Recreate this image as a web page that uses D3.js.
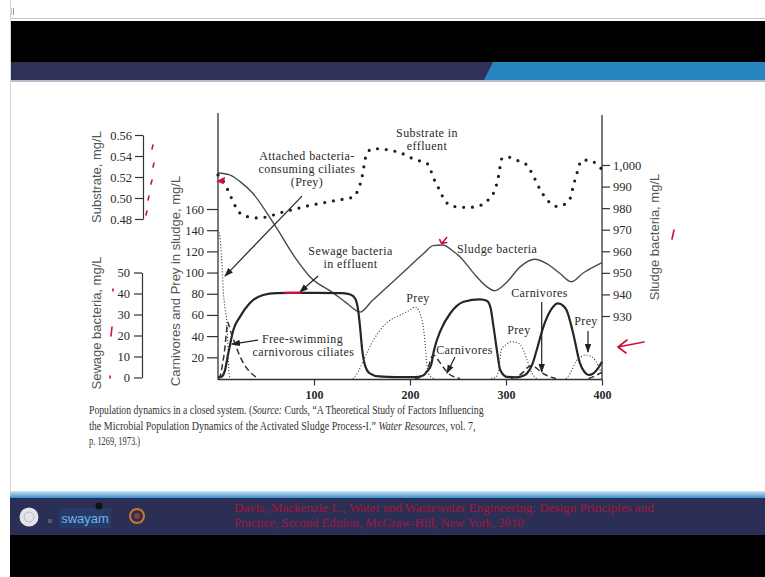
<!DOCTYPE html>
<html>
<head>
<meta charset="utf-8">
<script src="https://cdn.jsdelivr.net/npm/d3@7"></script>
<style>
  body { margin: 0; background: #fff; }
  svg { display: block; }
</style>
</head>
<body>
<div id="chart"></div>
<script>
// Time axis (hours) and tick values
const timeTicks = [100, 200, 300, 400];
const cpTicks = [20, 40, 60, 80, 100, 120, 140, 160];
const substrateTicks = [0.48, 0.50, 0.52, 0.54, 0.56];
const sewageTicks = [0, 10, 20, 30, 40, 50];
const sludgeTicks = [930, 940, 950, 960, 970, 980, 990, 1000];

// Substrate in effluent, mg/L  [time, value]
const substrate = [
  [0, 0.522], [4, 0.518], [8, 0.512], [12, 0.504], [16, 0.496], [20, 0.489], [25, 0.484],
  [32, 0.482], [40, 0.481], [51, 0.482], [65, 0.486], [78, 0.489], [96, 0.493], [113, 0.496],
  [131, 0.499], [141, 0.501], [146, 0.508], [150, 0.520], [152, 0.530], [155, 0.543],
  [162, 0.547], [176, 0.546], [190, 0.543], [204, 0.537], [219, 0.532], [224, 0.520],
  [230, 0.509], [236, 0.498], [245, 0.492], [261, 0.491], [269, 0.492], [278, 0.495],
  [283, 0.500], [289, 0.509], [292, 0.520], [296, 0.538], [302, 0.539], [311, 0.536],
  [321, 0.532], [328, 0.522], [335, 0.509], [343, 0.498], [353, 0.492], [361, 0.494],
  [367, 0.500], [370, 0.511], [374, 0.524], [379, 0.536], [386, 0.536], [396, 0.531], [400, 0.527]
];

// Sludge bacteria, mg/L (right axis)
const sludge = [
  [0, 996.3], [12, 995.4], [23, 992.3], [36, 987.0], [59, 972.2], [82, 956.0], [96, 948.1],
  [120, 940.7], [134, 936.0], [148, 931.8], [160, 936.8], [180, 945.0], [200, 953.2],
  [215, 959.3], [224, 962.6], [234, 962.9], [245, 960.0], [252, 957.5], [266, 950.0],
  [280, 943.6], [288, 941.7], [300, 945.3], [315, 952.9], [330, 956.3], [342, 954.4],
  [356, 949.8], [368, 945.9], [380, 949.8], [400, 954.7]
];

// Sewage bacteria in effluent, mg/L
const sewage = [
  [0, 0], [4, 0.5], [7, 3], [10.7, 11.4], [16, 22.6], [23, 29], [33, 35.4], [47, 39.3],
  [61, 40.2], [75, 40.3], [100, 40.3], [130, 40.2], [138, 39.5], [143, 37.5], [146, 32],
  [148, 24], [150, 14], [153, 6], [158, 2], [168, 0.5], [185, 0.2], [205, 0.2], [213, 0.8],
  [218, 3], [222, 6], [225, 13], [232, 22.6], [242, 30.6], [256, 36.1], [273, 37.2],
  [280, 36.5], [284, 33], [287, 24.2], [291, 11.5], [294, 3.6], [301, 0.3], [311, 0.1],
  [318, 0.8], [322, 2.0], [328, 7], [332, 13.1], [339, 24.2], [348, 33], [354, 35.3],
  [360, 34], [363, 32.1], [370, 21], [377, 6.8], [382, 2.5], [386, 1.2], [391, 2.0],
  [396, 4.5], [400, 7.5]
];

// Attached ciliates (prey), mg/L in sludge; null breaks the line
const prey = [
  [0, 140], [2, 133], [4, 110], [5.5, 83], [7.5, 65], [9, 55], [10, 38], [10.8, 18],
  [11.5, 4], [13, 0], [14, null],
  [141, 0], [146, 6.4], [153, 20], [161, 34.7], [175, 52], [190, 60], [200, 64.6],
  [205, 67.5], [208, 66], [211, 60], [214, 48], [216, 30], [217.5, 14], [220, 3.3], [225, 0],
  [226, null],
  [285, 0], [290, 1.7], [293, 12], [295, 26.9], [300, 32], [305, 34.7], [311, 34],
  [315, 31.6], [319, 25], [322, 17.5], [327, 5.2], [332, 0], [333, null],
  [363, 0], [367, 5.2], [374, 17.5], [379, 21], [383, 22.2], [387, 21.5], [391, 19.3],
  [396, 12], [398, 8], [400, 4]
];

// Free-swimming carnivorous ciliates, mg/L in sludge
const carnivores = [
  [0, 0], [2, 2], [5, 15], [7.3, 30], [9, 46], [10.2, 53], [11.5, 50], [14, 42],
  [17.7, 33], [21, 25], [24.7, 17.5], [29, 11], [33, 6.4], [38, 2.5], [42, 0], [43, null],
  [205, 0], [213, 2], [218, 8], [221, 16], [223, 21], [225, 22], [228, 19], [232, 14],
  [236, 9], [241, 4], [246, 1.5], [252, 0], [253, null],
  [305, 0], [312, 2], [318, 6], [322, 10], [326, 12], [330, 11], [334, 8], [340, 4],
  [346, 1.5], [352, 0], [353, null],
  [386, 0], [392, 2], [396, 4], [400, 6]
];

const caption = [
  [{ t: "Population dynamics in a closed system. (" }, { t: "Source:", i: true }, { t: " Curds, \u201CA Theoretical Study of Factors Influencing" }],
  [{ t: "the Microbial Population Dynamics of the Activated Sludge Process-I.\u201D " }, { t: "Water Resources,", i: true }, { t: " vol. 7," }],
  [{ t: "p. 1269, 1973.)" }]
];
const footer = [
  "Davis, Mackenzie L., Water and Wastewater Engineering: Design Principles and",
  "Practice, Second Edition, McGraw-Hill, New York, 2010"
];

const width = 765;
const height = 577;
const serif = "'Liberation Serif', 'Times New Roman', serif";
const sans = "'Liberation Sans', Arial, sans-serif";

const svg = d3.select("#chart").append("svg")
  .attr("width", width)
  .attr("height", height)
  .attr("viewBox", [0, 0, width, height]);

// ---- slide frame ----
svg.append("rect").attr("width", width).attr("height", height).attr("fill", "#fff");
svg.append("line").attr("x1", 10).attr("x2", width).attr("y1", 18.5).attr("y2", 18.5)
  .attr("stroke", "#c8c8c8");
svg.append("path").attr("d", "M11,8V15M13.5,8V15").attr("stroke", "#999").attr("stroke-width", 1);
svg.append("rect").attr("x", 10).attr("y", 21).attr("width", width - 10).attr("height", 41).attr("fill", "#000");
svg.append("rect").attr("x", 10).attr("y", 62).attr("width", width - 10).attr("height", 18).attr("fill", "#2f3159");
svg.append("path").attr("d", "M493,62H765V80H484Z").attr("fill", "#2786c2");
svg.append("line").attr("x1", 10).attr("x2", width).attr("y1", 81).attr("y2", 81)
  .attr("stroke", "#b8bcc8").attr("stroke-width", 2);
svg.append("line").attr("x1", 10.5).attr("x2", 10.5).attr("y1", 0).attr("y2", height)
  .attr("stroke", "#d8d8d8");

const grad = svg.append("defs").append("linearGradient").attr("id", "fb")
  .attr("x1", 0).attr("x2", 0).attr("y1", 0).attr("y2", 1);
grad.append("stop").attr("offset", 0).attr("stop-color", "#cfe6f6");
grad.append("stop").attr("offset", 1).attr("stop-color", "#3a8fcf");
svg.append("rect").attr("x", 10).attr("y", 491).attr("width", width - 10).attr("height", 7).attr("fill", "url(#fb)");
svg.append("rect").attr("x", 10).attr("y", 498).attr("width", width - 10).attr("height", 37).attr("fill", "#2c2f55");
svg.append("rect").attr("x", 10).attr("y", 535).attr("width", width - 10).attr("height", 42).attr("fill", "#000");

// footer logos
const logos = svg.append("g");
logos.append("circle").attr("cx", 29).attr("cy", 517).attr("r", 9.5).attr("fill", "#e4e4ea");
logos.append("circle").attr("cx", 29).attr("cy", 517).attr("r", 5).attr("fill", "none").attr("stroke", "#b9b9c4");
logos.append("rect").attr("x", 48).attr("y", 519).attr("width", 4).attr("height", 4).attr("fill", "#555a70");
logos.append("rect").attr("x", 59).attr("y", 508).attr("width", 52).attr("height", 20).attr("fill", "#253a66");
logos.append("text").attr("x", 85).attr("y", 523).attr("text-anchor", "middle")
  .attr("font-family", sans).attr("font-size", 13).attr("fill", "#6fb4ec").text("swayam");
logos.append("circle").attr("cx", 99).attr("cy", 506).attr("r", 3.5).attr("fill", "#111");
logos.append("circle").attr("cx", 137).attr("cy", 516).attr("r", 7).attr("fill", "none")
  .attr("stroke", "#c9782c").attr("stroke-width", 2);
logos.append("circle").attr("cx", 137).attr("cy", 516).attr("r", 3).attr("fill", "#8a3c3c");

const footerText = svg.append("g").attr("font-family", serif).attr("font-size", 13).attr("fill", "#a3173a");
const footerWidths = [420, 290];
footer.forEach((line, i) => {
  const t = footerText.append("text").attr("x", 0).attr("y", 0).text(line);
  const w = t.node().getComputedTextLength();
  t.attr("transform", `translate(234,${512 + i * 15}) scale(${footerWidths[i] / w},1)`);
});

// ---- scales ----
const x = d3.scaleLinear([0, 400], [218, 602]);
const yCP = d3.scaleLinear([0, 160], [378.5, 209]);
const ySub = d3.scaleLinear([0.48, 0.56], [219, 135]);
const ySew = d3.scaleLinear([0, 50], [377.5, 272.5]);
const ySl = d3.scaleLinear([930, 1000], [316, 165]);

const styleAxis = g => {
  g.attr("font-family", serif).attr("font-size", 12.5);
  g.selectAll(".tick line").attr("stroke", "#333").attr("stroke-width", 1.2);
  g.selectAll(".tick text").attr("fill", "#2a2a2a");
  g.select(".domain").attr("stroke", "#333").attr("stroke-width", 1.2);
};

// carnivores & prey axis (inner left)
svg.append("g")
  .attr("transform", "translate(218,0)")
  .call(d3.axisLeft(yCP).tickValues(cpTicks).tickSize(11).tickPadding(3))
  .call(g => g.select(".domain").remove())
  .call(styleAxis);

// substrate axis
svg.append("g")
  .attr("transform", "translate(143,0)")
  .call(d3.axisLeft(ySub).tickValues(substrateTicks).tickFormat(d3.format(".2f"))
    .tickSize(8).tickSizeOuter(0).tickPadding(3))
  .call(styleAxis);

// sewage bacteria axis
svg.append("g")
  .attr("transform", "translate(142,0)")
  .call(d3.axisLeft(ySew).tickValues(sewageTicks).tickSize(8).tickSizeOuter(0).tickPadding(4))
  .call(styleAxis);

// sludge bacteria axis (right)
svg.append("g")
  .attr("transform", "translate(602,0)")
  .call(d3.axisRight(ySl).tickValues(sludgeTicks).tickFormat(d3.format(",")).tickSize(8).tickPadding(3))
  .call(g => g.select(".domain").remove())
  .call(styleAxis);

// time axis
svg.append("g")
  .attr("transform", "translate(0,379.5)")
  .call(d3.axisBottom(x).tickValues(timeTicks).tickSize(6).tickPadding(5))
  .call(g => g.select(".domain").remove())
  .call(styleAxis)
  .call(g => g.attr("font-size", 12).attr("font-weight", "bold"));

// frame lines of the plot
svg.append("g").attr("stroke", "#333").attr("stroke-width", 1.3)
  .call(g => g.append("line").attr("x1", x(0)).attr("x2", x(0)).attr("y1", 113).attr("y2", 380))
  .call(g => g.append("line").attr("x1", x(400)).attr("x2", x(400)).attr("y1", 115).attr("y2", 380))
  .call(g => g.append("line").attr("x1", x(0)).attr("x2", x(400)).attr("y1", 379.5).attr("y2", 379.5));

// axis titles
const titles = svg.append("g").attr("font-family", sans).attr("font-size", 13).attr("fill", "#555")
  .attr("text-anchor", "middle");
[
  ["Substrate, mg/L", 101, 177],
  ["Sewage bacteria, mg/L", 101, 323],
  ["Carnivores and Prey in sludge, mg/L", 180, 281],
  ["Sludge bacteria, mg/L", 659, 237]
].forEach(([t, cx, cy]) => {
  titles.append("text").attr("transform", `translate(${cx},${cy}) rotate(-90)`).text(t);
});

// ---- series ----
const line = y => d3.line()
  .defined(d => d[1] !== null)
  .x(d => x(d[0]))
  .y(d => y(d[1]))
  .curve(d3.curveMonotoneX);

const plot = svg.append("g").attr("fill", "none");

plot.append("path").datum(sludge)
  .attr("d", line(ySl)).attr("stroke", "#4a4a4a").attr("stroke-width", 1.4);

plot.append("path").datum(sewage)
  .attr("d", line(ySew)).attr("stroke", "#262626").attr("stroke-width", 2.2);

plot.append("path").datum(prey)
  .attr("d", line(yCP)).attr("stroke", "#444").attr("stroke-width", 1.3)
  .attr("stroke-dasharray", "0 3").attr("stroke-linecap", "round");

plot.append("path").datum(carnivores)
  .attr("d", line(yCP)).attr("stroke", "#333").attr("stroke-width", 1.5)
  .attr("stroke-dasharray", "6 3.5");

plot.append("path").datum(substrate)
  .attr("d", line(ySub)).attr("stroke", "#1e1e1e").attr("stroke-width", 3.2)
  .attr("stroke-dasharray", "0 8.8").attr("stroke-linecap", "round");

// ---- annotations (placed in time / carnivore-prey units) ----
svg.select("defs").append("marker")
  .attr("id", "ah").attr("viewBox", "0 -4 9 8").attr("refX", 8).attr("refY", 0)
  .attr("markerUnits", "userSpaceOnUse").attr("markerWidth", 9).attr("markerHeight", 8)
  .attr("orient", "auto")
  .append("path").attr("d", "M0,-3.2L9,0L0,3.2Z").attr("fill", "#222");

const arrows = [
  [87.5, 172.2, 7.3, 96.7],
  [104.2, 96.7, 85.4, 81.6],
  [246.9, 20.3, 238.5, 5.2],
  [337.2, 72.2, 337.2, 6.1],
  [385.4, 44.8, 385.4, 25],
  [41.7, 36.3, 14.6, 32.5]
];
svg.append("g").attr("stroke", "#222").attr("stroke-width", 1.2)
  .selectAll("line").data(arrows).join("line")
  .attr("x1", d => x(d[0])).attr("y1", d => yCP(d[1]))
  .attr("x2", d => x(d[2])).attr("y2", d => yCP(d[3]))
  .attr("marker-end", "url(#ah)");

const notes = [
  ["Attached bacteria-", 92.7, 206.6, "middle"],
  ["consuming ciliates", 92.7, 194.3, "middle"],
  ["(Prey)", 92.7, 182, "middle"],
  ["Sewage bacteria", 138, 116.5, "middle"],
  ["in effluent", 138, 104.2, "middle"],
  ["Substrate in", 217.7, 227.9, "middle"],
  ["effluent", 217.7, 215.6, "middle"],
  ["Sludge bacteria", 249, 118.4, "start"],
  ["Prey", 208.3, 72.2, "middle"],
  ["Carnivores", 256.8, 23.1, "middle"],
  ["Prey", 313.5, 42, "middle"],
  ["Carnivores", 334.9, 76.9, "middle"],
  ["Prey", 383.3, 50.5, "middle"],
  ["Free-swimming", 88, 33.4, "middle"],
  ["carnivorous  ciliates", 89, 21.2, "middle"]
];
svg.append("g").attr("font-family", serif).attr("font-size", 12).attr("fill", "#2a2a2a")
  .attr("letter-spacing", 0.4).style("white-space", "pre")
  .selectAll("text").data(notes).join("text")
  .attr("x", d => x(d[1])).attr("y", d => yCP(d[2]))
  .attr("text-anchor", d => d[3])
  .text(d => d[0]);

// ---- caption ----
const capWidths = [395, 387, 51];
const cap = svg.append("g").attr("font-family", serif).attr("font-size", 12).attr("fill", "#333");
caption.forEach((parts, i) => {
  const t = cap.append("text").attr("x", 0).attr("y", 0);
  parts.forEach(p => t.append("tspan").attr("font-style", p.i ? "italic" : null).text(p.t));
  const w = t.node().getComputedTextLength();
  t.attr("transform", `translate(89,${414 + i * 15.5}) scale(${capWidths[i] / w},1)`);
});

// ---- lecturer's red pen marks ----
const pen = svg.append("g").attr("stroke", "#d0103c").attr("stroke-width", 1.6)
  .attr("fill", "none").attr("stroke-linecap", "round");
pen.append("path").attr("d",
  "M153,145l-1,4M154,163l-1,4M152,180l-1,4M149,196l-1,4M147,211l-1,4" +
  "M113,289l0,2M112,327l-1,9M110,376l0,2" +
  "M618,347l26,-5M618,347l9,-7M618,347l8,6M674,230l-2,9");
pen.append("path").attr("d", `M${x(0)},${ySub(0.516)}l6,-3l-1,5z`).attr("fill", "#d0103c");
pen.append("path").attr("d", `M${x(70)},${ySew(40.3)}H${x(86)}`).attr("stroke-width", 2.2);
pen.append("path").attr("d", `M${x(233)},${ySl(963.6)}l5,-6M${x(233)},${ySl(963.6)}l-2,-4M${x(233)},${ySl(963.6)}l5,-1`);
</script>
</body>
</html>
